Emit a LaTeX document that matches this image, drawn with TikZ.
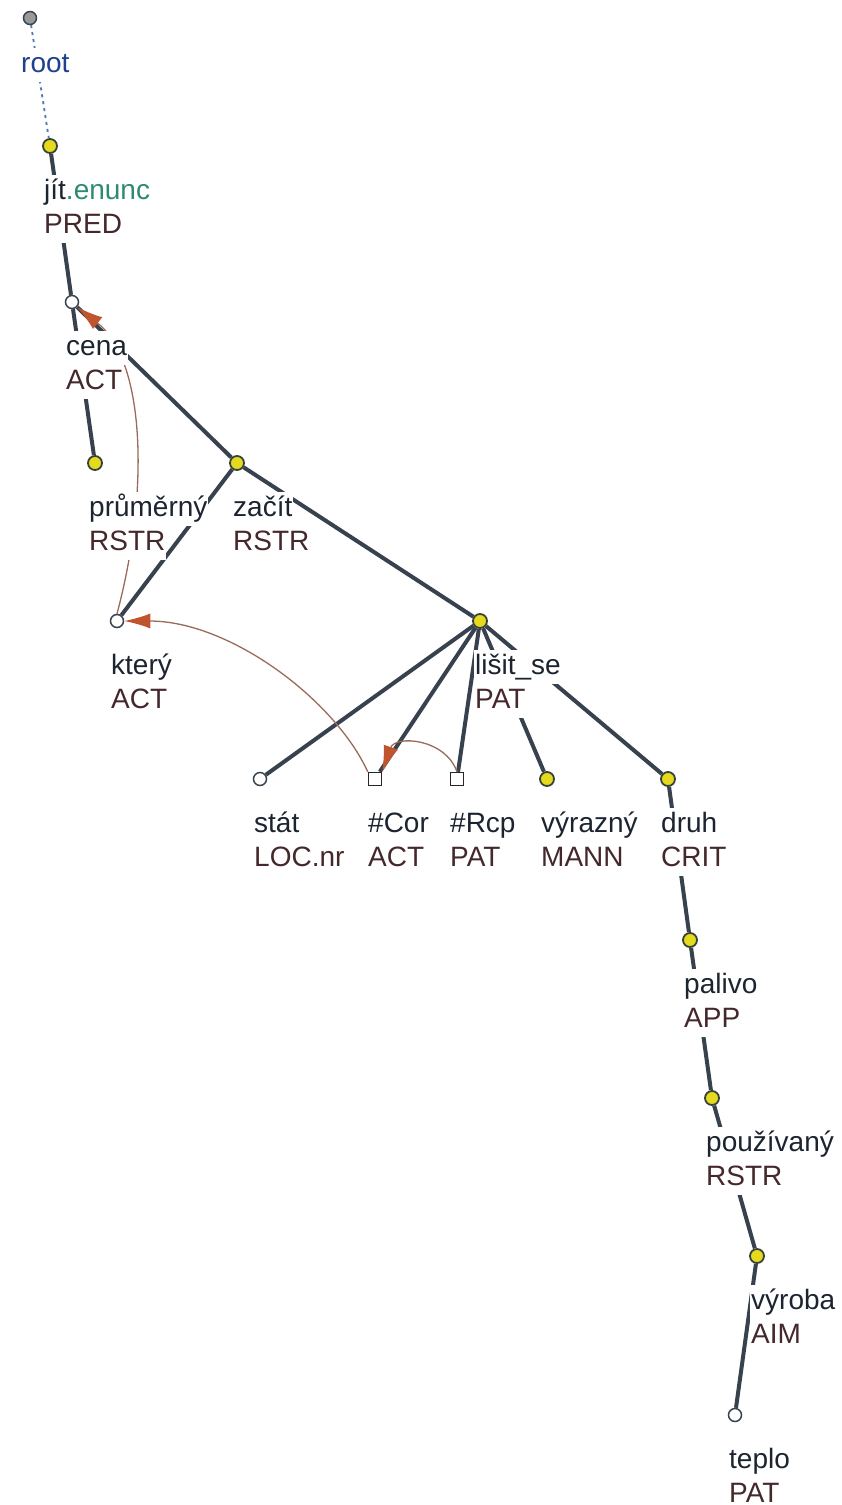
\documentclass[tikz,border=0pt]{standalone}
\usepackage{fontspec}
\setmainfont{Liberation Sans}
\usetikzlibrary{arrows.meta}
\definecolor{edgecol}{HTML}{38424F}
\definecolor{wordcol}{HTML}{1C2430}
\definecolor{funccol}{HTML}{44282C}
\definecolor{rootcol}{HTML}{1F3F8F}
\definecolor{enunccol}{HTML}{2E8B72}
\definecolor{dotyellow}{HTML}{E6DA1E}
\definecolor{dotline}{HTML}{37433A}
\definecolor{corefline}{HTML}{9A6A5A}
\definecolor{corefhead}{HTML}{C0542E}
\definecolor{rootline}{HTML}{4A7AB5}
\pgfdeclarelayer{edges}
\pgfdeclarelayer{labels}
\pgfsetlayers{edges,labels,main}
\tikzset{
  ydot/.style={circle,fill=dotyellow,draw=dotline,line width=1.8pt,minimum size=14pt,inner sep=0pt},
  wdot/.style={circle,fill=white,draw=edgecol,line width=1.5pt,minimum size=13pt,inner sep=0pt},
  gdot/.style={circle,fill=gray!80,draw=edgecol,line width=1.5pt,minimum size=13pt,inner sep=0pt},
  sqbox/.style={rectangle,fill=white,draw=black!85,line width=1.5pt,minimum size=13pt,inner sep=0pt},
  lbl/.style={fill=white,inner xsep=1pt,inner ysep=3.2pt,font=\fontsize{28}{32}\selectfont,
              text height=21pt,text depth=7pt,anchor=base west},
  word/.style={lbl,text=wordcol},
  func/.style={lbl,text=funccol},
  treeedge/.style={draw=edgecol,line width=4pt},
  rootedge/.style={draw=rootline,line width=1.8pt,dash pattern=on 3pt off 4pt},
  coref/.style={draw=corefline,line width=1.3pt,
                -{Latex[length=26pt,width=15pt,fill=corefhead,color=corefhead]}},
}
% node label: name, dot x, dot y, lemma, functor
\newcommand\tlabel[5]{%
  \node[word] (#1-w) at (#2-7,#3+53) {#4};
  \node[func] (#1-f) at (#2-7,#3+87) {#5};
}
\begin{document}
\begin{tikzpicture}[x=1pt,y=-1pt]
\useasboundingbox (0,0) rectangle (841,1505);

% nodes of the tree
\node[gdot]  (root)   at (30,18)    {};
\node[ydot]  (jit)    at (50,146)   {};
\node[wdot]  (cena)   at (72,302)   {};
\node[ydot]  (prum)   at (95,463)   {};
\node[ydot]  (zacit)  at (237,463)  {};
\node[wdot]  (ktery)  at (117,621)  {};
\node[ydot]  (lisit)  at (480,621)  {};
\node[wdot]  (stat)   at (260,779)  {};
\node[sqbox] (cor)    at (375,779)  {};
\node[sqbox] (rcp)    at (457,779)  {};
\node[ydot]  (vyr)    at (547,779)  {};
\node[ydot]  (druh)   at (668,779)  {};
\node[ydot]  (palivo) at (690,940)  {};
\node[ydot]  (pouz)   at (712,1098) {};
\node[ydot]  (vyroba) at (757,1256) {};
\node[wdot]  (teplo)  at (735,1415) {};

% dependency edges and coreference arrows
\begin{pgfonlayer}{edges}
  \draw[rootedge] (root) -- (jit);
  \draw[treeedge] (jit) -- (cena);
  \draw[treeedge] (cena) -- (prum);
  \draw[treeedge] (cena) -- (zacit);
  \draw[treeedge] (zacit) -- (ktery);
  \draw[treeedge] (zacit) -- (lisit);
  \draw[treeedge] (lisit) -- (stat);
  \draw[treeedge] (lisit) -- (cor);
  \draw[treeedge] (lisit) -- (rcp);
  \draw[treeedge] (lisit) -- (vyr);
  \draw[treeedge] (lisit) -- (druh);
  \draw[treeedge] (druh) -- (palivo);
  \draw[treeedge] (palivo) -- (pouz);
  \draw[treeedge] (pouz) -- (vyroba);
  \draw[treeedge] (vyroba) -- (teplo);
  \draw[coref] (ktery.north) .. controls (150,490) and (145,360) .. (cena.south east);
  \draw[coref] (cor.north west) .. controls (335,700) and (230,621) .. (ktery.east);
  \draw[coref] (rcp.north) .. controls (445,738) and (395,735) .. (cor.north east);
\end{pgfonlayer}

% labels
\begin{pgfonlayer}{labels}
  \node[lbl,text=rootcol] (root-w) at (20,72) {root};
  \node[word] (jit-w) at (43,199) {jít\textcolor{enunccol}{.enunc}};
  \node[func] (jit-f) at (43,233) {PRED};
  \tlabel{cena}{72}{302}{cena}{ACT}
  \tlabel{prum}{95}{463}{průměrný}{RSTR}
  \tlabel{zacit}{239}{463}{začít}{RSTR}
  \tlabel{ktery}{117}{621}{který}{ACT}
  \tlabel{lisit}{481}{621}{lišit\_se}{PAT}
  \tlabel{stat}{260}{779}{stát}{LOC.nr}
  \tlabel{cor}{374}{779}{\#Cor}{ACT}
  \tlabel{rcp}{456}{779}{\#Rcp}{PAT}
  \tlabel{vyr}{547}{779}{výrazný}{MANN}
  \tlabel{druh}{667}{779}{druh}{CRIT}
  \tlabel{palivo}{690}{940}{palivo}{APP}
  \tlabel{pouz}{712}{1098}{používaný}{RSTR}
  \tlabel{vyroba}{757}{1256}{výroba}{AIM}
  \tlabel{teplo}{735}{1415}{teplo}{PAT}
\end{pgfonlayer}
\end{tikzpicture}
\end{document}
